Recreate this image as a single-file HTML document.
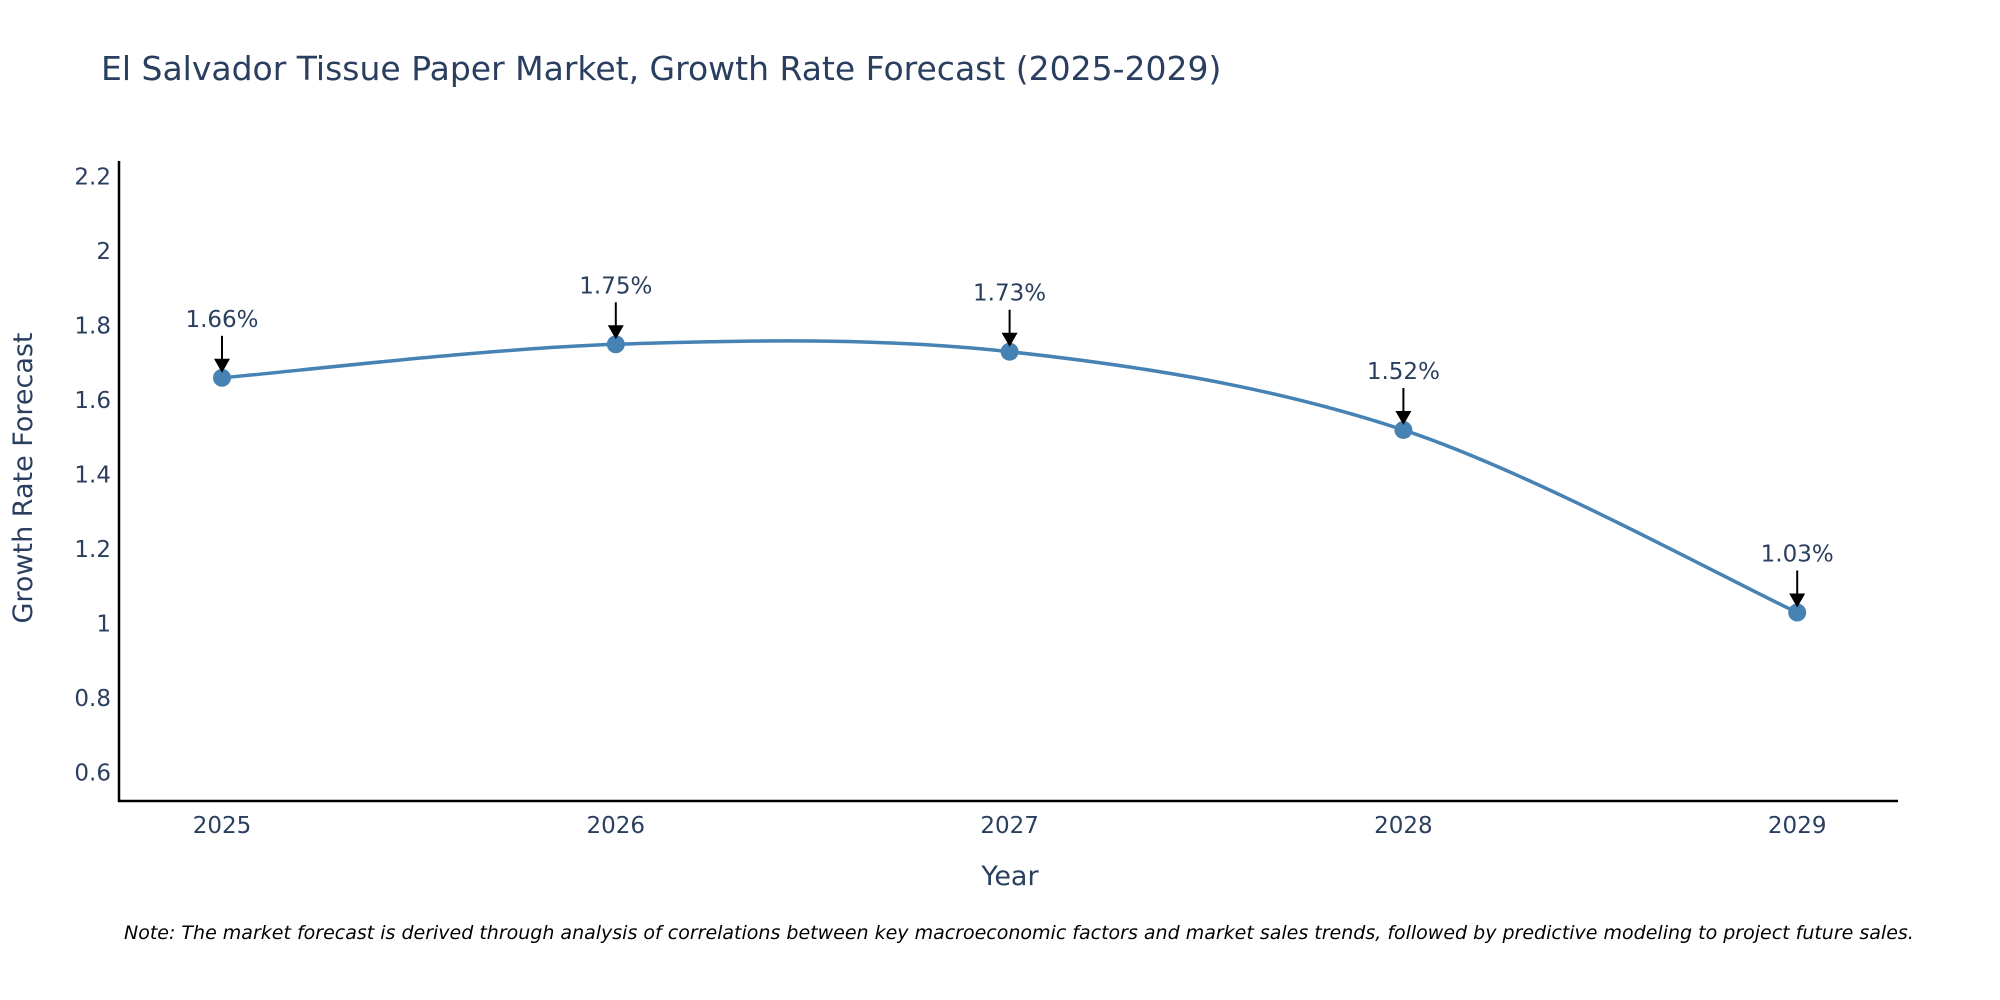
<!DOCTYPE html>
<html><head><meta charset="utf-8"><style>
html,body{margin:0;padding:0;background:#fff;}
svg{display:block;font-family:"DejaVu Sans","Liberation Sans",sans-serif;}
</style></head><body>
<svg id="chart" width="2000" height="1000" viewBox="0 0 2000 1000">
<text x="101" y="80" font-size="33" fill="#2a3f5f">El Salvador Tissue Paper Market, Growth Rate Forecast (2025-2029)</text>
<g id="yticks"></g>
<g id="xticks"></g>
<line x1="119" y1="161" x2="119" y2="802" stroke="#000" stroke-width="2.5"/>
<line x1="118" y1="801" x2="1898" y2="801" stroke="#000" stroke-width="2.5"/>
<path id="line" fill="none" stroke="#4682b4" stroke-width="3.5"/>
<g id="points"></g>
<g id="annots"></g>
<text x="32" y="478" font-size="27" fill="#2a3f5f" text-anchor="middle" transform="rotate(-90 32 478)">Growth Rate Forecast</text>
<text x="1010" y="885" font-size="27" fill="#2a3f5f" text-anchor="middle">Year</text>
<text x="124" y="939" font-size="19" font-style="italic" fill="#000">Note: The market forecast is derived through analysis of correlations between key macroeconomic factors and market sales trends, followed by predictive modeling to project future sales.</text>
</svg>
<script>
const years = [2025, 2026, 2027, 2028, 2029];
const rates = [1.66, 1.75, 1.73, 1.52, 1.03];
const yTickValues = [0.6, 0.8, 1, 1.2, 1.4, 1.6, 1.8, 2, 2.2];
const yTickLabels = ["0.6", "0.8", "1", "1.2", "1.4", "1.6", "1.8", "2", "2.2"];

const NS = "http://www.w3.org/2000/svg";
const yMin = 0.524, yMax = 2.242, pyBottom = 801, pyTop = 161;
const xStart = 222, xStep = 393.8;
function xScale(v){ return xStart + (v - years[0]) * xStep; }
function yScale(v){ return pyBottom - (v - yMin) / (yMax - yMin) * (pyBottom - pyTop); }
function mk(tag, attrs, parent){ const e = document.createElementNS(NS, tag); for (const k in attrs) e.setAttribute(k, attrs[k]); parent.appendChild(e); return e; }

const yt = document.getElementById('yticks');
yTickValues.forEach((v, i) => {
  const t = mk('text', {x: 111, y: yScale(v) + 8, 'font-size': 23, fill: '#2a3f5f', 'text-anchor': 'end'}, yt);
  t.textContent = yTickLabels[i];
  
  
});
const xt = document.getElementById('xticks');
years.forEach(y => {
  const t = mk('text', {x: xScale(y), y: 833, 'font-size': 23, fill: '#2a3f5f', 'text-anchor': 'middle'}, xt);
  t.textContent = String(y);
  
  
});

const pts = years.map((y, i) => [xScale(y), yScale(rates[i])]);
let d = `M${pts[0][0]},${pts[0][1]}`;
const s = 0.5;
for (let i = 0; i < pts.length - 1; i++) {
  const p0 = pts[Math.max(0, i - 1)], p1 = pts[i], p2 = pts[i + 1], p3 = pts[Math.min(pts.length - 1, i + 2)];
  const c1 = [p1[0] + (p2[0] - p0[0]) * s / 3, p1[1] + (p2[1] - p0[1]) * s / 3];
  const c2 = [p2[0] - (p3[0] - p1[0]) * s / 3, p2[1] - (p3[1] - p1[1]) * s / 3];
  d += ` C${c1[0]},${c1[1]} ${c2[0]},${c2[1]} ${p2[0]},${p2[1]}`;
}
document.getElementById('line').setAttribute('d', d);

const pg = document.getElementById('points');
const ag = document.getElementById('annots');
pts.forEach((p, i) => {
  const c = mk('circle', {cx: p[0], cy: p[1], r: 9, fill: '#4682b4'}, pg);
  
  
  const l = mk('line', {x1: p[0], y1: p[1] - 42, x2: p[0], y2: p[1] - 18, stroke: '#000', 'stroke-width': 2}, ag);
  
  
  const h = mk('polygon', {points: `${p[0]-8},${p[1]-19} ${p[0]+8},${p[1]-19} ${p[0]},${p[1]-5}`, fill: '#000'}, ag);
  
  
  const t = mk('text', {x: p[0], y: p[1] - 51, 'font-size': 23, fill: '#2a3f5f', 'text-anchor': 'middle'}, ag);
  t.textContent = rates[i].toFixed(2) + '%';
  
  
});
</script>
</body></html>
